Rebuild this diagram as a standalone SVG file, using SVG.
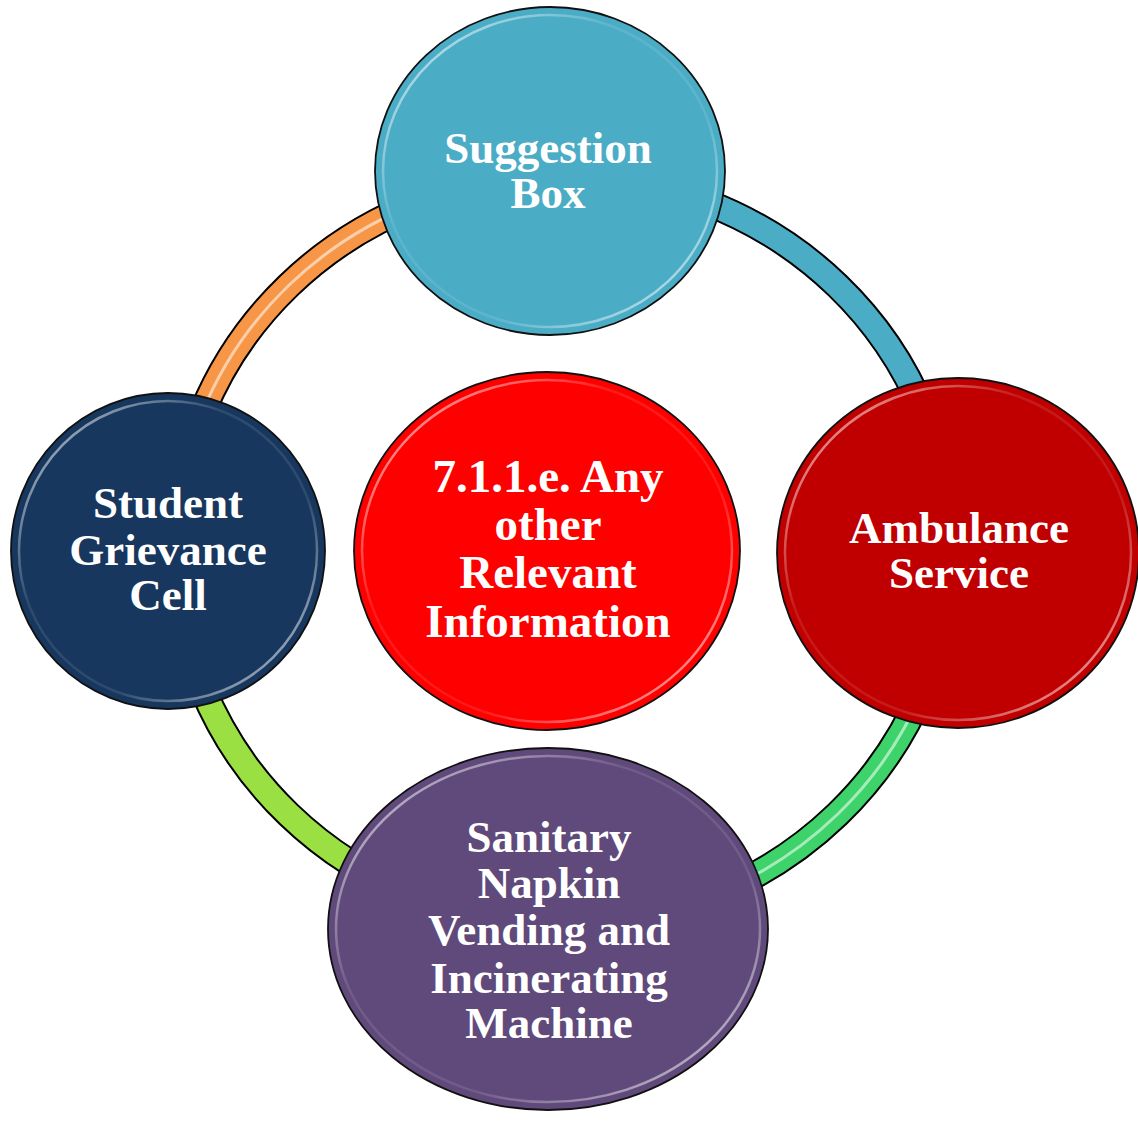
<svg xmlns="http://www.w3.org/2000/svg" width="1138" height="1122" viewBox="0 0 1138 1122">
<defs>
<style>
.lbl{font-family:"Liberation Serif","Times New Roman",serif;font-weight:bold;font-size:45px;fill:#ffffff;text-anchor:middle}
.big{font-size:47px}
.edge{fill:none;stroke:#000;stroke-width:28}
.band{fill:none;stroke-width:24}
.gloss{fill:none;stroke:#ffffff;stroke-width:3;opacity:0.55}
.node{stroke:#111;stroke-width:1.8}
.rim{fill:none;stroke:url(#rimg);stroke-width:2.5}
</style>
<linearGradient id="rimg" x1="0" y1="0" x2="1" y2="1">
<stop offset="0" stop-color="#fff" stop-opacity="0.8"/>
<stop offset="0.35" stop-color="#fff" stop-opacity="0.1"/>
<stop offset="0.65" stop-color="#fff" stop-opacity="0.1"/>
<stop offset="1" stop-color="#fff" stop-opacity="0.8"/>
</linearGradient>
</defs>
<rect width="1138" height="1122" fill="#ffffff"/>
<g id="connectors">
<path class="edge" d="M175,550 A388,374 0 0 1 563,176"/>
<path class="band" stroke="#F79646" d="M175,550 A388,374 0 0 1 563,176"/>
<path class="gloss" d="M175,550 A388,374 0 0 1 563,176"/>
<path class="edge" d="M563,176 A388,374 0 0 1 951,550"/>
<path class="band" stroke="#4BACC6" d="M563,176 A388,374 0 0 1 951,550"/>
<path class="edge" d="M951,550 A388,374 0 0 1 563,924"/>
<path class="band" stroke="#3DD36A" d="M951,550 A388,374 0 0 1 563,924"/>
<path class="gloss" d="M951,550 A388,374 0 0 1 563,924"/>
<path class="edge" d="M563,924 A388,374 0 0 1 175,550"/>
<path class="band" stroke="#9BE043" d="M563,924 A388,374 0 0 1 175,550"/>
</g>
<g id="node-top">
<ellipse class="node" cx="550" cy="171" rx="175" ry="164" fill="#4BACC6"/>
<ellipse class="rim" cx="550" cy="171" rx="167" ry="156"/>
<text class="lbl" x="548" y="163">Suggestion</text>
<text class="lbl" x="548" y="208">Box</text>
</g>
<g id="node-right">
<ellipse class="node" cx="958" cy="553" rx="181" ry="175" fill="#C00000"/>
<ellipse class="rim" cx="958" cy="553" rx="173" ry="167"/>
<text class="lbl" x="959" y="543">Ambulance</text>
<text class="lbl" x="959" y="588">Service</text>
</g>
<g id="node-left">
<ellipse class="node" cx="168" cy="551" rx="157" ry="158" fill="#17375E"/>
<ellipse class="rim" cx="168" cy="551" rx="149" ry="150"/>
<text class="lbl" x="168" y="518">Student</text>
<text class="lbl" x="168" y="565">Grievance</text>
<text class="lbl" x="168" y="610">Cell</text>
</g>
<g id="node-bottom">
<ellipse class="node" cx="548" cy="929" rx="220" ry="181" fill="#604A7B"/>
<ellipse class="rim" cx="548" cy="929" rx="212" ry="173"/>
<text class="lbl" x="549" y="852">Sanitary</text>
<text class="lbl" x="549" y="898">Napkin</text>
<text class="lbl" x="549" y="945">Vending and</text>
<text class="lbl" x="549" y="993">Incinerating</text>
<text class="lbl" x="549" y="1038">Machine</text>
</g>
<g id="node-center">
<ellipse class="node" cx="547" cy="551" rx="193" ry="179" fill="#FF0000"/>
<ellipse class="rim" cx="547" cy="551" rx="185" ry="171"/>
<text class="lbl big" x="548" y="492">7.1.1.e. Any</text>
<text class="lbl big" x="548" y="540">other</text>
<text class="lbl big" x="548" y="588">Relevant</text>
<text class="lbl big" x="548" y="637">Information</text>
</g>
</svg>
